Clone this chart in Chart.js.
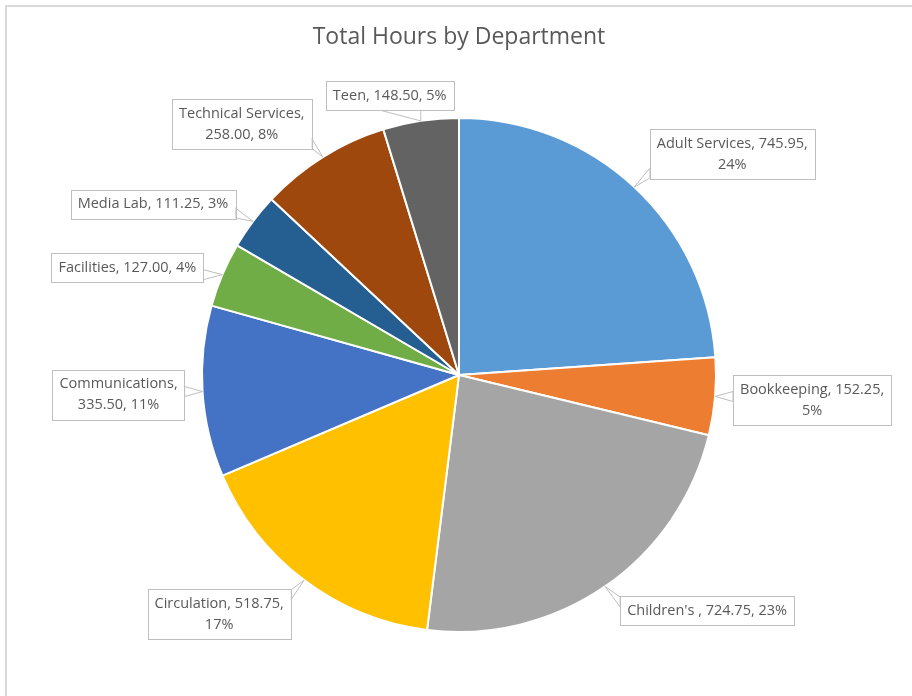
<!DOCTYPE html>
<html>
<head>
<meta charset="utf-8">
<script src="https://cdn.jsdelivr.net/npm/chart.js@4.4.1/dist/chart.umd.min.js"></script>
<style>
  html, body { margin: 0; padding: 0; background: #fff; }
  #wrap { position: relative; width: 912px; height: 696px; }
</style>
</head>
<body>
<div id="wrap"><canvas id="chart" width="912" height="696"></canvas></div>
<script>
// Total hours per department
const departments = ['Adult Services', 'Bookkeeping', "Children's ", 'Circulation', 'Communications',
  'Facilities', 'Media Lab', 'Technical Services', 'Teen'];
const hours = [745.95, 152.25, 724.75, 518.75, 335.50, 127.00, 111.25, 258.00, 148.50];
const percentLabels = ['24%', '5%', '23%', '17%', '11%', '4%', '3%', '8%', '5%'];
const sliceColors = ['#5B9BD5', '#ED7D31', '#A5A5A5', '#FFC000', '#4472C4', '#70AD47', '#255E91', '#9E480E', '#636363'];

// callout layout: text lines and box center offset from the slice edge anchor
const calloutLayout = [
  { lines: ['Adult Services, 745.95,', '24%'], dx: 98, dy: -33 },
  { lines: ['Bookkeeping, 152.25,', '5%'], dx: 97, dy: 4 },
  { lines: ["Children's , 724.75, 23%"], dx: 102, dy: 24 },
  { lines: ['Circulation, 518.75,', '17%'], dx: -85, dy: 34 },
  { lines: ['Communications,', '335.50, 11%'], dx: -84, dy: 3 },
  { lines: ['Facilities, 127.00, 4%'], dx: -95, dy: -7 },
  { lines: ['Media Lab, 111.25, 3%'], dx: -100, dy: -17 },
  { lines: ['Technical Services,', '258.00, 8%'], dx: -81, dy: -33 },
  { lines: ['Teen, 148.50, 5%'], dx: -31, dy: -25 },
];

const FONT = '"Open Sans", "Noto Sans", sans-serif';

const framePlugin = {
  id: 'frame',
  beforeDraw(chart) {
    const ctx = chart.ctx;
    ctx.save();
    ctx.fillStyle = '#fff';
    ctx.fillRect(0, 0, chart.width, chart.height);
    ctx.strokeStyle = '#d9d9d9';
    ctx.lineWidth = 2;
    ctx.beginPath();
    ctx.moveTo(6, chart.height);
    ctx.lineTo(6, 6);
    ctx.lineTo(chart.width, 6);
    ctx.stroke();
    // title
    ctx.fillStyle = '#595959';
    ctx.font = '23px ' + FONT;
    ctx.textAlign = 'center';
    ctx.textBaseline = 'middle';
    ctx.fillText('Total Hours by Department', 459, 37);
    ctx.restore();
  },
};

const calloutPlugin = {
  id: 'callouts',
  afterDatasetsDraw(chart) {
    const ctx = chart.ctx;
    const meta = chart.getDatasetMeta(0);
    ctx.save();
    ctx.font = '14.5px ' + FONT;
    ctx.textAlign = 'center';
    ctx.textBaseline = 'middle';
    const lh = 21, padX = 7, padY = 4;
    meta.data.forEach((arc, i) => {
      const p = arc.getProps(['x', 'y', 'startAngle', 'endAngle', 'outerRadius'], true);
      const mid = (p.startAngle + p.endAngle) / 2;
      const ax = p.x + Math.cos(mid) * p.outerRadius;
      const ay = p.y + Math.sin(mid) * p.outerRadius;
      const lay = calloutLayout[i];
      const cx = ax + lay.dx, cy = ay + lay.dy;
      const w = Math.max(...lay.lines.map((t) => ctx.measureText(t).width)) + padX * 2;
      const h = lay.lines.length * lh + padY * 2;
      const x0 = cx - w / 2, y0 = cy - h / 2;
      // pointer base on the box edge closest to anchor
      const bx = Math.min(Math.max(ax, x0), x0 + w);
      const by = Math.min(Math.max(ay, y0), y0 + h);
      let b1, b2;
      if (bx === x0 || bx === x0 + w) {
        const yy = Math.min(Math.max(by, y0 + 6), y0 + h - 6);
        b1 = [bx, yy - 5]; b2 = [bx, yy + 5];
      } else {
        const xx = Math.min(Math.max(bx, x0 + 8), x0 + w - 8);
        const sx = ax < cx ? 1 : -1;
        b1 = [xx, by]; b2 = [xx + sx * 40, by];
      }
      ctx.strokeStyle = '#bfbfbf';
      ctx.lineWidth = 1;
      ctx.fillStyle = '#fff';
      ctx.beginPath();
      ctx.moveTo(b1[0], b1[1]);
      ctx.lineTo(ax, ay);
      ctx.lineTo(b2[0], b2[1]);
      ctx.closePath();
      ctx.fill();
      ctx.stroke();
      ctx.fillRect(x0, y0, w, h);
      ctx.strokeRect(Math.round(x0) + 0.5, Math.round(y0) + 0.5, Math.round(w), Math.round(h));
      ctx.fillStyle = '#595959';
      lay.lines.forEach((t, k) => {
        ctx.fillText(t, cx, y0 + padY + lh * k + lh / 2);
      });
    });
    ctx.restore();
  },
};

new Chart(document.getElementById('chart'), {
  type: 'pie',
  data: {
    labels: departments,
    datasets: [{
      data: hours,
      backgroundColor: sliceColors,
      borderColor: '#ffffff',
      borderWidth: 2,
    }],
  },
  options: {
    responsive: false,
    animation: false,
    layout: { padding: { top: 117, bottom: 63, left: 6, right: 0 } },
    plugins: {
      legend: { display: false },
      tooltip: { enabled: false },
      title: { display: false },
    },
  },
  plugins: [framePlugin, calloutPlugin],
});
</script>
</body>
</html>
